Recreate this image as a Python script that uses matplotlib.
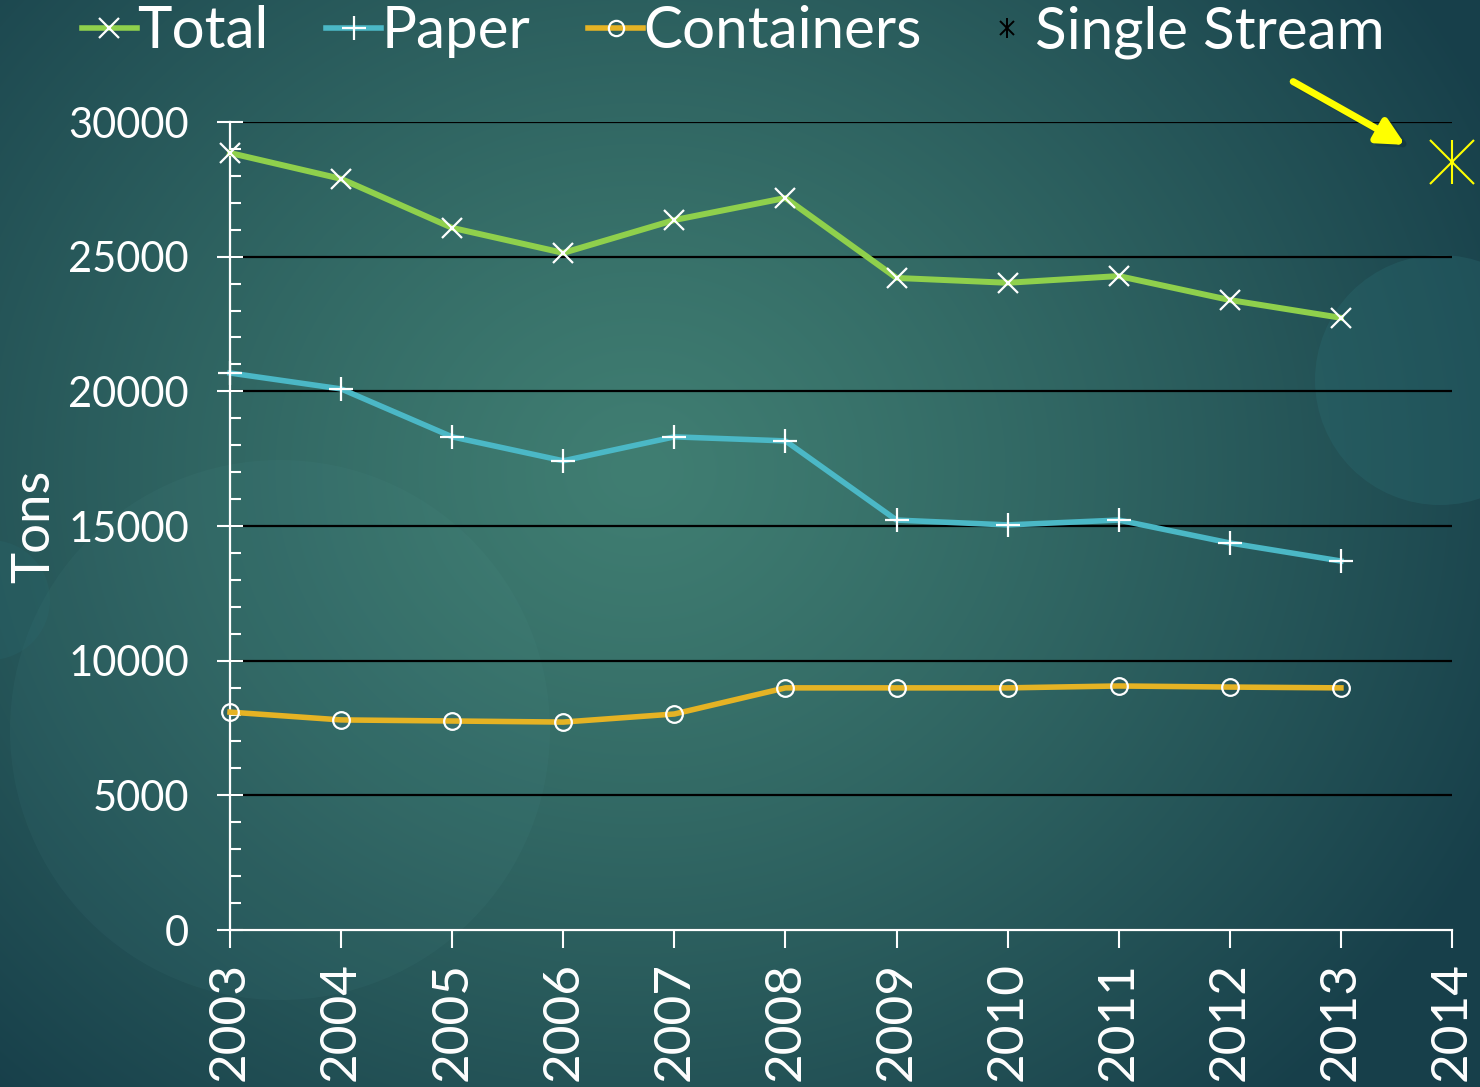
import numpy as np
import matplotlib
matplotlib.use("Agg")
import matplotlib.pyplot as plt
from matplotlib.lines import Line2D
from matplotlib.legend_handler import HandlerTuple
from matplotlib.patches import Circle
from matplotlib.ticker import MultipleLocator

# ---- data ----
years = [2003, 2004, 2005, 2006, 2007, 2008, 2009, 2010, 2011, 2012, 2013]
total = [28850, 27890, 26070, 25140, 26360, 27180, 24210, 24030, 24280, 23390, 22730]
paper = [20680, 20090, 18310, 17420, 18310, 18160, 15220, 15040, 15220, 14370, 13700]
containers = [8090, 7800, 7760, 7720, 8020, 8990, 8990, 8990, 9060, 9020, 8990]
single_year = [2014]
single_stream = [28520]
x_ticks = list(range(2003, 2015))
y_ticks = list(range(0, 30001, 5000))
series_names = ["Total", "Paper", "Containers", "Single Stream"]

plt.rcParams['font.family'] = ['Lato', 'DejaVu Sans']

W, H = 1480, 1087
fig = plt.figure(figsize=(W / 100, H / 100), dpi=100)

# ---- background ----
bg = fig.add_axes([0, 0, 1, 1], zorder=-10)
yy, xx = np.mgrid[0:H, 0:W]
d = np.sqrt(((xx - 640) / 950) ** 2 + ((yy - 470) / 850) ** 2)
t = np.clip(d, 0, 1)[..., None] ** 1.2
c_center = np.array([0x40, 0x7e, 0x72]) / 255
c_edge = np.array([0x17, 0x3f, 0x4a]) / 255
img = c_center * (1 - t) + c_edge * t
bg.imshow(img, extent=[0, W, H, 0], aspect='auto', interpolation='bilinear')
bg.add_patch(Circle((280, 730), 270, color='#5aa0a0', alpha=0.07, lw=0))
bg.add_patch(Circle((1440, 380), 125, color='#2a6a70', alpha=0.35, lw=0))
bg.add_patch(Circle((-10, 600), 60, color='#2a6a70', alpha=0.25, lw=0))
bg.set_xlim(0, W)
bg.set_ylim(H, 0)
bg.axis('off')

# ---- main axes ----
ax = fig.add_axes([230 / W, 1 - 930 / H, (1452 - 230) / W, (930 - 122) / H])
ax.patch.set_alpha(0)

green = '#8fd04c'
cyan = '#4bb8c6'
gold = '#e5b324'
yellow = '#ffff00'

ax.plot(years, total, color=green, lw=4.3, marker='x', ms=15, mec='white', mew=1.6,
        clip_on=False, zorder=3)
ax.plot(years, paper, color=cyan, lw=4, marker='+', ms=17, mec='white', mew=1.6,
        clip_on=False, zorder=3)
ax.plot(years, containers, color=gold, lw=4, marker='o', ms=12, mfc='none', mec='white',
        mew=1.6, clip_on=False, zorder=3)
ax.plot(single_year, single_stream, ls='none', marker='x', ms=32, mec=yellow, mew=1.5,
        clip_on=False, zorder=3)
ax.plot(single_year, single_stream, ls='none', marker='|', ms=32, mec=yellow, mew=1.5,
        clip_on=False, zorder=3)

ax.set_xlim(2003, 2014)
ax.set_ylim(0, 30000)
ax.set_xticks(x_ticks)
ax.set_xticklabels([str(v) for v in x_ticks], rotation=90)
ax.set_yticks(y_ticks)
ax.yaxis.set_minor_locator(MultipleLocator(1000))
ax.yaxis.grid(True, which='major', color='black', lw=1.6)
ax.set_axisbelow(True)

for s in ['top', 'right']:
    ax.spines[s].set_visible(False)
for s in ['left', 'bottom']:
    ax.spines[s].set_color('white')
    ax.spines[s].set_linewidth(1.6)

ax.tick_params(axis='y', which='major', direction='inout', length=19, width=1.5,
               color='white', labelcolor='white', labelsize=30, pad=20)
ax.tick_params(axis='y', which='minor', direction='in', length=8, width=1.5, color='white')
ax.tick_params(axis='x', which='major', direction='out', length=13, width=1.5,
               color='white', labelcolor='white', labelsize=37, pad=10)

ax.set_ylabel("Tons", color='white', fontsize=38, labelpad=7)

# arrow annotation (with faint shadow)
ax.annotate("", xy=(2013.62, 29050), xytext=(2012.60, 31380), xycoords='data',
            annotation_clip=False,
            arrowprops=dict(arrowstyle='-|>', color='#10303a', alpha=0.35, lw=5,
                            mutation_scale=40, shrinkA=0, shrinkB=0))
ax.annotate("", xy=(2013.58, 29150), xytext=(2012.57, 31500), xycoords='data',
            annotation_clip=False,
            arrowprops=dict(arrowstyle='-|>', color=yellow, lw=5, mutation_scale=40,
                            shrinkA=0, shrinkB=0))

# ---- legend ----
h_total = Line2D([], [], color=green, lw=4, marker='x', ms=15, mec='white', mew=1.6)
h_paper = Line2D([], [], color=cyan, lw=4, marker='+', ms=17, mec='white', mew=1.6)
h_cont = Line2D([], [], color=gold, lw=4, marker='o', ms=11, mfc='none', mec='white', mew=1.6)
h_ss1 = Line2D([], [], ls='none', marker='x', ms=10, mec='black', mew=1.4)
h_ss2 = Line2D([], [], ls='none', marker='|', ms=14, mec='black', mew=1.4)
leg = fig.legend([h_total, h_paper, h_cont, (h_ss1, h_ss2)], series_names,
                 handler_map={tuple: HandlerTuple(ndivide=1, pad=0)},
                 loc='center left', bbox_to_anchor=(82 / W, 1 - 32 / H), ncol=4,
                 frameon=False, fontsize=42, handlelength=0.94, handletextpad=0.0,
                 columnspacing=1.0, borderpad=0, borderaxespad=0)
for txt in leg.get_texts():
    txt.set_color('white')

fig.savefig("out.png", dpi=100)
